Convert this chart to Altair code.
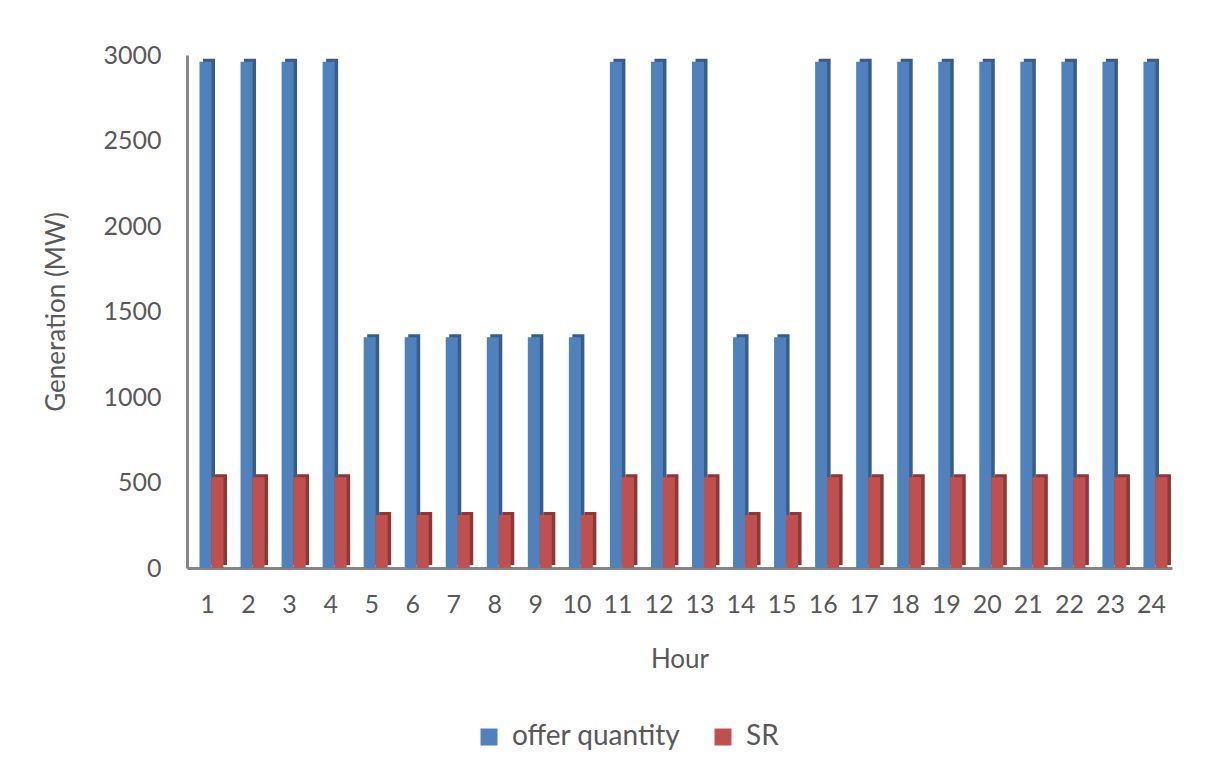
import altair as alt
import pandas as pd

hours = [str(h) for h in range(1, 25)]
offer_quantity = [2960, 2960, 2960, 2960, 1350, 1350, 1350, 1350, 1350, 1350,
                  2960, 2960, 2960, 1350, 1350, 2960, 2960, 2960, 2960, 2960,
                  2960, 2960, 2960, 2960]
sr = [530, 530, 530, 530, 310, 310, 310, 310, 310, 310,
      530, 530, 530, 310, 310, 530, 530, 530, 530, 530,
      530, 530, 530, 530]
series_names = ["offer quantity", "SR"]
series_colors = ["#4F81BD", "#C0504D"]
shadow_colors = ["#385D8A", "#8C3836"]
y_ticks = [0, 500, 1000, 1500, 2000, 2500, 3000]

rows = []
for h, o, s in zip(hours, offer_quantity, sr):
    rows.append({"Hour": h, "series": series_names[0], "value": o})
    rows.append({"Hour": h, "series": series_names[1], "value": s})
df = pd.DataFrame(rows)

FONT = "Lato"
GRAY = "#595959"

x_enc = alt.X("Hour:N", sort=hours, scale=alt.Scale(paddingInner=0, paddingOuter=0),
              axis=alt.Axis(title="Hour", labelAngle=0, ticks=False, labelPadding=24,
                            titlePadding=29, domainColor="#868686", domainWidth=3,
                            labelFontSize=25, titleFontSize=26, labelColor=GRAY,
                            titleColor=GRAY, labelFont=FONT, titleFont=FONT,
                            titleFontWeight="normal"))
y_enc = alt.Y("value:Q", scale=alt.Scale(domain=[0, 3000], nice=False),
              axis=alt.Axis(title="Generation (MW)", values=y_ticks, ticks=False,
                            grid=False, format="d", labelPadding=26, titlePadding=33,
                            domainColor="#868686", domainWidth=3,
                            labelFontSize=25, titleFontSize=26, labelColor=GRAY,
                            titleColor=GRAY, labelFont=FONT, titleFont=FONT,
                            titleFontWeight="normal"))

base = alt.Chart(df)
BW = 12

layers = []
offsets = [18.5, 30.5]
for i, name in enumerate(series_names):
    shadow = base.transform_filter(alt.datum.series == name).mark_bar(
        width=BW, color=shadow_colors[i]).encode(
        x=x_enc, y=y_enc, xOffset=alt.value(offsets[i] + 3.5), yOffset=alt.value(-3))
    front = base.transform_filter(alt.datum.series == name).mark_bar(
        width=BW).encode(
        x=x_enc, y=y_enc, xOffset=alt.value(offsets[i]),
        color=alt.Color("series:N",
                        scale=alt.Scale(domain=series_names, range=series_colors),
                        legend=alt.Legend(title=None, orient="none", direction="horizontal",
                                          legendX=288, legendY=668, symbolType="square",
                                          symbolSize=289, symbolStrokeWidth=0,
                                          labelFontSize=28, labelFont=FONT,
                                          labelLimit=0,
                                          labelColor=GRAY, columnPadding=28,
                                          labelOffset=9)))
    layers += [shadow, front]

chart = alt.layer(*layers).properties(
    width=985, height=513,
    autosize=alt.AutoSizeParams(type="none"),
    padding={"left": 179, "top": 47, "right": 42, "bottom": 198},
).configure(background="white").configure_view(stroke=None)

chart.save("out.html", embed_options={"renderer": "svg", "actions": False})
